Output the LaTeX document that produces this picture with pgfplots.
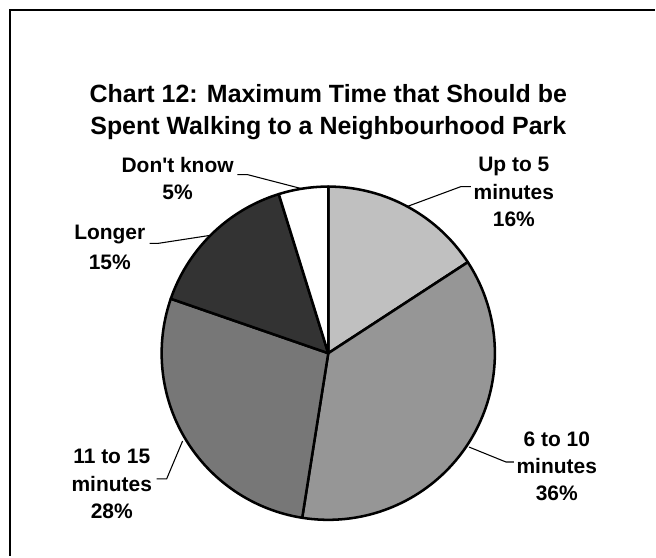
\documentclass[border=0pt]{standalone}
\usepackage{pgfplots}
\pgfplotsset{compat=1.18}
\usepackage{fontspec}
\setmainfont{Liberation Sans}
\definecolor{cA}{HTML}{C0C0C0}
\definecolor{cB}{HTML}{969696}
\definecolor{cC}{HTML}{777777}
\definecolor{cD}{HTML}{333333}
\definecolor{cE}{HTML}{FFFFFF}
\newcommand\tfont{\bfseries\fontsize{18.75}{24}\selectfont}
\newcommand\lfont{\bfseries\fontsize{15.75}{20}\selectfont}
% shares in percent (clockwise from 12 o'clock)
\def\pA{15.8}% Up to 5 minutes
\def\pB{36.7}% 6 to 10 minutes
\def\pC{27.8}% 11 to 15 minutes
\def\pD{14.9}% Longer
\def\pE{4.8}%  Don't know
\pgfmathsetmacro\aO{90}
\pgfmathsetmacro\aA{\aO-3.6*\pA}
\pgfmathsetmacro\aB{\aA-3.6*\pB}
\pgfmathsetmacro\aC{\aB-3.6*\pC}
\pgfmathsetmacro\aD{\aC-3.6*\pD}
\pgfmathsetmacro\aE{\aD-3.6*\pE}
\begin{document}%
\begin{tikzpicture}
\begin{axis}[x=0.75pt, y=0.75pt, xmin=0, xmax=656, ymin=0, ymax=557,
  hide axis, clip=false, scale only axis]
\path (axis cs:0,0) rectangle (axis cs:656,557);
% frame
\draw[line width=2.2pt] (axis cs:10,0) -- (axis cs:10,547) -- (axis cs:656,547);
% title
\node[font=\tfont, anchor=base] at (axis cs:329,454) {Chart 12: Maximum Time that Should be};
\node[font=\tfont, anchor=base] at (axis cs:329,422) {Spent Walking to a Neighbourhood Park};
% pie slices
\pgfplotsset{slice/.style={draw=black, line width=1.9pt, line join=round, samples=80}}
\addplot[slice, fill=cA, domain=\aA:\aO] ({329+167*cos(x)},{203+167*sin(x)}) -- (axis cs:329,203) -- cycle;
\addplot[slice, fill=cB, domain=\aB:\aA] ({329+167*cos(x)},{203+167*sin(x)}) -- (axis cs:329,203) -- cycle;
\addplot[slice, fill=cC, domain=\aC:\aB] ({329+167*cos(x)},{203+167*sin(x)}) -- (axis cs:329,203) -- cycle;
\addplot[slice, fill=cD, domain=\aD:\aC] ({329+167*cos(x)},{203+167*sin(x)}) -- (axis cs:329,203) -- cycle;
\addplot[slice, fill=cE, domain=\aE:\aD] ({329+167*cos(x)},{203+167*sin(x)}) -- (axis cs:329,203) -- cycle;
% leader lines
\addplot[black, line width=0.8pt] coordinates {(408,350) (462,370) (472,370)};
\addplot[black, line width=0.8pt] coordinates {(238,382) (248,382) (302,368)};
\addplot[black, line width=0.8pt] coordinates {(150,313) (158,313) (210,321)};
\addplot[black, line width=0.8pt] coordinates {(470,109) (507,94) (515,94)};
\addplot[black, line width=0.8pt] coordinates {(183,115) (167,77) (157,77)};
% labels
\node[font=\lfont, anchor=base] at (axis cs:515,385) {Up to 5};
\node[font=\lfont, anchor=base] at (axis cs:515,357) {minutes};
\node[font=\lfont, anchor=base] at (axis cs:515,330) {16\%};
\node[font=\lfont, anchor=base] at (axis cs:178,384) {Don\textquotesingle t know};
\node[font=\lfont, anchor=base] at (axis cs:178,357) {5\%};
\node[font=\lfont, anchor=base] at (axis cs:110,317) {Longer};
\node[font=\lfont, anchor=base] at (axis cs:110,287) {15\%};
\node[font=\lfont, anchor=base] at (axis cs:558,110) {6 to 10};
\node[font=\lfont, anchor=base] at (axis cs:558,82) {minutes};
\node[font=\lfont, anchor=base] at (axis cs:558,55) {36\%};
\node[font=\lfont, anchor=base] at (axis cs:112,92) {11 to 15};
\node[font=\lfont, anchor=base] at (axis cs:112,64) {minutes};
\node[font=\lfont, anchor=base] at (axis cs:112,37) {28\%};
\end{axis}
\end{tikzpicture}%
\end{document}
